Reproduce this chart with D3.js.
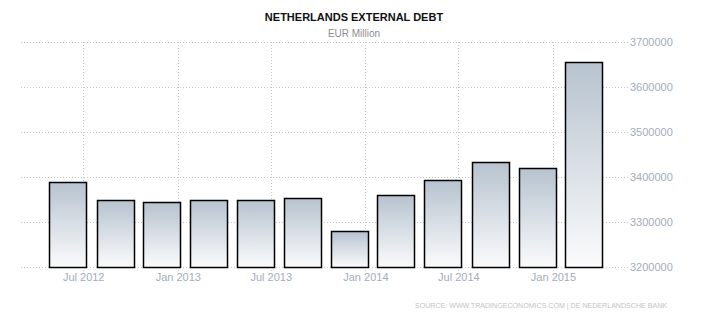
<!DOCTYPE html>
<html>
<head>
<meta charset="utf-8">
<script src="https://cdn.jsdelivr.net/npm/d3@7"></script>
<style>
  body { margin: 0; background: #fff; }
  svg { display: block; font-family: "Liberation Sans", Arial, sans-serif; }
</style>
</head>
<body>
<div id="chart"></div>
<script>
// quarterly external debt, EUR million
var dates = ['2012-06-01', '2012-09-01', '2012-12-01', '2013-03-01', '2013-06-01', '2013-09-01',
  '2013-12-01', '2014-03-01', '2014-06-01', '2014-09-01', '2014-12-01', '2015-03-01'];
var values = [3388000, 3348000, 3344000, 3348000, 3348000, 3353000,
  3279000, 3359000, 3393000, 3433000, 3419000, 3656000];
var xTicks = ['2012-07-01', '2013-01-01', '2013-07-01', '2014-01-01', '2014-07-01', '2015-01-01'];
var yTicks = [3200000, 3300000, 3400000, 3500000, 3600000, 3700000];

var width = 710;
var height = 320;
var margin = { top: 42, right: 82, bottom: 53, left: 21 };
var parse = d3.timeParse('%Y-%m-%d');
var font = '"Liberation Sans", Arial, sans-serif';

var data = dates.map(function (d, i) { return { date: parse(d), value: values[i] }; });

var svg = d3.select('#chart').append('svg')
  .attr('width', width)
  .attr('height', height);

var defs = svg.append('defs');
var grad = defs.append('linearGradient')
  .attr('id', 'barFill')
  .attr('x1', 0).attr('y1', 0).attr('x2', 0).attr('y2', 1);
grad.append('stop').attr('offset', '0%').attr('stop-color', '#b7c3cf');
grad.append('stop').attr('offset', '100%').attr('stop-color', '#fbfbfc');

var x = d3.scaleTime()
  .domain([parse('2012-03-02'), parse('2015-05-27')])
  .range([margin.left, width - margin.right]);

var y = d3.scaleLinear()
  .domain([3200000, 3700000])
  .range([height - margin.bottom, margin.top]);

var gridColor = '#c8c8c8';

// horizontal grid
svg.append('g')
  .selectAll('line')
  .data(yTicks)
  .enter()
  .append('line')
  .attr('x1', margin.left)
  .attr('x2', width - margin.right)
  .attr('y1', function (d) { return Math.round(y(d)) + 0.5; })
  .attr('y2', function (d) { return Math.round(y(d)) + 0.5; })
  .style('stroke', gridColor)
  .style('stroke-dasharray', '1,2');

// vertical grid
svg.append('g')
  .selectAll('line')
  .data(xTicks)
  .enter()
  .append('line')
  .attr('x1', function (d) { return Math.round(x(parse(d))) + 0.5; })
  .attr('x2', function (d) { return Math.round(x(parse(d))) + 0.5; })
  .attr('y1', margin.top)
  .attr('y2', height - margin.bottom + 4)
  .style('stroke', gridColor)
  .style('stroke-dasharray', '1,2');

// bars
var barW = 37;
svg.append('g')
  .selectAll('rect')
  .data(data)
  .enter()
  .append('rect')
  .attr('x', function (d) { return Math.round(x(d.date) - barW / 2) + 0.5; })
  .attr('y', function (d) { return Math.round(y(d.value)) + 0.5; })
  .attr('width', barW)
  .attr('height', function (d) { return Math.round(y(3200000)) - Math.round(y(d.value)); })
  .style('fill', 'url(#barFill)')
  .style('stroke', '#000')
  .style('stroke-width', 1.5);

// x axis labels
var xAxis = d3.axisBottom(x)
  .tickValues(xTicks.map(parse))
  .tickFormat(d3.timeFormat('%b %Y'))
  .tickSize(0)
  .tickPadding(6);
var gx = svg.append('g')
  .attr('transform', 'translate(0,' + (height - margin.bottom) + ')')
  .call(xAxis);
gx.select('.domain').remove();
gx.selectAll('text')
  .style('font-family', font)
  .style('font-size', '11px')
  .style('fill', '#a3adbb');

// y axis labels on the right
var yAxis = d3.axisRight(y)
  .tickValues(yTicks)
  .tickFormat(d3.format('d'))
  .tickSize(0)
  .tickPadding(2);
var gy = svg.append('g')
  .attr('transform', 'translate(' + (width - margin.right) + ',0)')
  .call(yAxis);
gy.select('.domain').remove();
gy.selectAll('text')
  .style('font-family', font)
  .style('font-size', '11px')
  .style('fill', '#a3adbb');

// titles
svg.append('text')
  .attr('x', 354)
  .attr('y', 21)
  .attr('text-anchor', 'middle')
  .style('font-size', '11px')
  .style('font-weight', 'bold')
  .style('fill', '#111')
  .text('NETHERLANDS EXTERNAL DEBT');

svg.append('text')
  .attr('x', 354)
  .attr('y', 37)
  .attr('text-anchor', 'middle')
  .style('font-size', '10px')
  .style('fill', '#8e8e8e')
  .text('EUR Million');

svg.append('text')
  .attr('x', 415)
  .attr('y', 308)
  .attr('textLength', 252)
  .attr('lengthAdjust', 'spacingAndGlyphs')
  .style('font-size', '8px')
  .style('fill', '#c4c4c4')
  .text('SOURCE: WWW.TRADINGECONOMICS.COM | DE NEDERLANDSCHE BANK');
</script>
</body>
</html>
